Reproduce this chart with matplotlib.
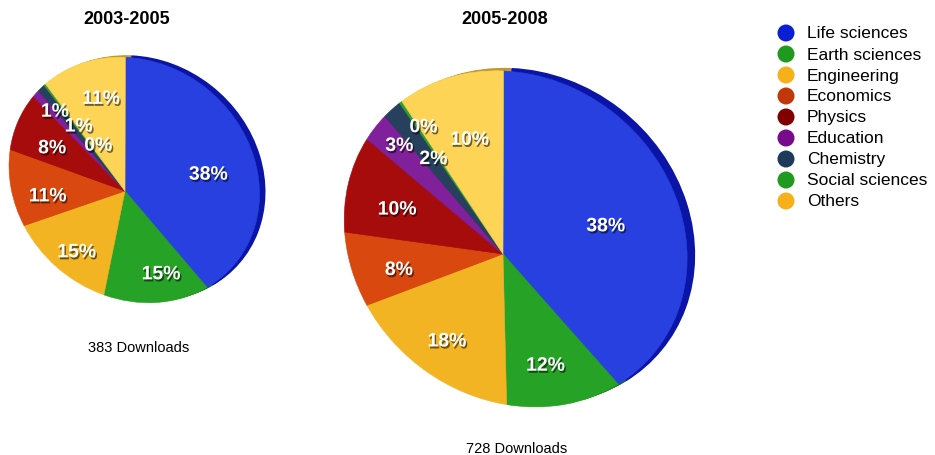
import numpy as np
import matplotlib
matplotlib.use("Agg")
import matplotlib.pyplot as plt
import matplotlib.patheffects as pe
from matplotlib.transforms import Transform, Affine2D

plt.rcParams['font.family'] = ['Liberation Sans', 'DejaVu Sans']

# downloads per field, in pie order (clockwise from 12 o'clock)
fields = ['Life sciences', 'Earth sciences', 'Engineering', 'Economics', 'Physics',
          'Education', 'Chemistry', 'Social sciences', 'Others']
downloads_0305 = [146, 57, 57, 42, 31, 4, 4, 1, 41]
downloads_0508 = [275, 86, 130, 57, 72, 21, 14, 2, 71]
periods = ['2003-2005', '2005-2008']

legend_colors = ['#0a1ed2', '#1e9a1e', '#f5b01a', '#c0380a', '#800000',
                 '#780a8c', '#1e3a5a', '#1e9a1e', '#f5b01a']
face_colors = ['#2840e0', '#26a226', '#f3b423', '#d8480f', '#a60c0c',
               '#80209a', '#27405e', '#2ea02e', '#fdd455']
rim_colors = ['#0a14a6', '#16701a', '#b07a10', '#902a08', '#6a0606',
              '#501060', '#18283c', '#16701a', '#c09a30']

# label placement: (fraction of radius, angular nudge in degrees, clockwise)
labels_0305 = [(0.66, 3.6), (0.755, -8), (0.745, -3), (0.675, -5.6), (0.66, -3.2),
               (0.80, 1), (0.60, 3.7), (0.40, 7), (0.72, 4.5)]
labels_0508 = [(0.61, 0.3), (0.73, 1.5), (0.72, -0.9), (0.68, -3), (0.67, -2),
               (0.83, 1.5), (0.65, 1.3), (0.82, 2), (0.66, 1)]


class TiltedDisk(Transform):
    """Unit-disk coords -> pixel coords of a disk tipped towards the viewer."""
    input_dims = 2
    output_dims = 2

    def __init__(self, cx, cy, radius, near=40, tilt=28, dist=3.8):
        super().__init__()
        b, t = np.radians(near), np.radians(tilt)
        self.n = np.array([np.sin(b), np.cos(b)])
        self.a = np.array([np.cos(b), -np.sin(b)])
        self.cos_t, self.sin_t = np.cos(t), np.sin(t)
        self.cx, self.cy, self.r, self.dist = cx, cy, radius, dist

    def transform_non_affine(self, values):
        uv = np.atleast_2d(np.asarray(values, float))
        s = uv @ self.n
        t = uv @ self.a
        xy = t[:, None] * self.a + (s * self.cos_t)[:, None] * self.n
        k = 1.0 / (1.0 - s * self.sin_t / self.dist)
        out = np.column_stack([self.cx + self.r * xy[:, 0] * k,
                               self.cy - self.r * xy[:, 1] * k])
        return out.reshape(np.shape(values))


W, H = 935, 456
fig = plt.figure(figsize=(W / 100, H / 100), dpi=100)
ax = fig.add_axes([0, 0, 1, 1])

shadow = [pe.SimplePatchShadow(offset=(1, -1.5), shadow_rgbFace='black', alpha=0.55),
          pe.Normal()]
START = 86.4  # keeps the first slice edge upright once the disk is tipped


def draw_pie(counts, cx, cy, radius, rim, label_pos, title, foot_y):
    tilt = TiltedDisk(cx, cy, radius)
    # side wall: a few darker copies pushed out behind the face
    for f in np.linspace(0.25, 1, 4):
        shift = Affine2D().translate(rim[0] * f, rim[1] * f)
        wedges, _ = ax.pie(counts, colors=rim_colors, startangle=START, counterclock=False)
        for w in wedges:
            w.set_transform(tilt + shift + ax.transData)
            w.set_edgecolor('none')
            w.set_zorder(1)
    wedges, _ = ax.pie(counts, colors=face_colors, startangle=START, counterclock=False)
    for w in wedges:
        w.set_transform(tilt + ax.transData)
        w.set_edgecolor(w.get_facecolor())
        w.set_linewidth(0.4)
        w.set_zorder(2)

    total = sum(counts)
    for w, c, (d, nudge) in zip(wedges, counts, label_pos):
        mid = np.radians((w.theta1 + w.theta2) / 2 - nudge)
        px, py = tilt.transform([d * np.cos(mid), d * np.sin(mid)])
        ax.text(px, py, f'{100 * c / total:.0f}%', color='white', fontsize=14,
                fontweight='bold', ha='center', va='center', zorder=5,
                path_effects=shadow)

    ax.text(cx + 2, 20, title, fontsize=13, fontweight='bold', ha='center', va='center')
    ax.text(cx + 14, foot_y, f'{total} Downloads', fontsize=10.5, ha='center', va='center')


draw_pie(downloads_0305, 125, 192, 130, (6, -2), labels_0305, periods[0], 348)
draw_pie(downloads_0508, 503, 255, 178, (8, -3), labels_0508, periods[1], 449)

# legend
for i, (name, col) in enumerate(zip(fields, legend_colors)):
    y = 34 + 21 * i
    ax.scatter(786, y, s=150, color=col, edgecolor='none', zorder=3)
    ax.text(807, y, name, fontsize=12.5, va='center', ha='left')

ax.set_xlim(0, W)
ax.set_ylim(H, 0)
ax.set_aspect('auto')
ax.axis('off')

fig.savefig('out.png', dpi=100)
